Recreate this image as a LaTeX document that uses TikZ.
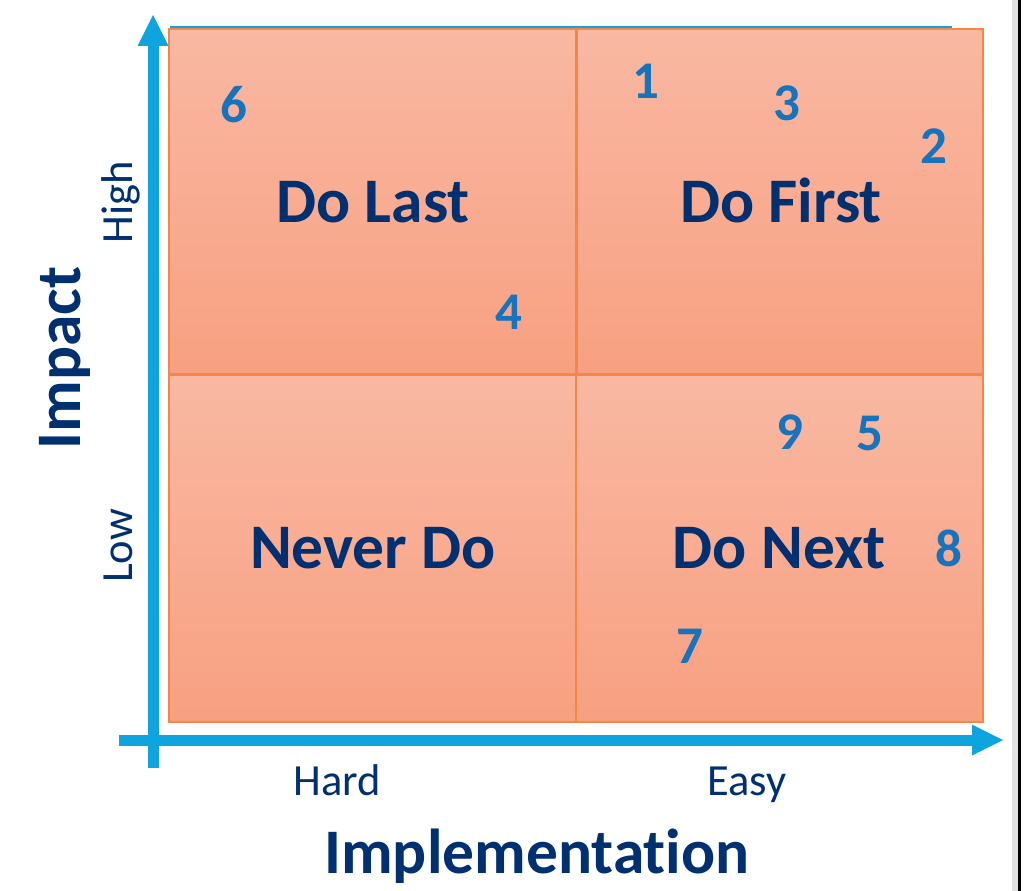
\documentclass[tikz,border=0pt]{standalone}
\usepackage{fontspec}
\setmainfont{Carlito}[Ligatures={NoCommon,NoRequired,NoContextual}]
\definecolor{navy}{RGB}{0,48,112}
\definecolor{numblue}{RGB}{22,115,188}
\definecolor{axisblue}{RGB}{14,165,223}
\definecolor{filltop}{RGB}{249,184,162}
\definecolor{fillbot}{RGB}{248,160,129}
\definecolor{edge}{RGB}{245,135,70}
\tikzset{
  quad/.style={top color=filltop, bottom color=fillbot, draw=edge, line width=1.3pt},
  quadlabel/.style={anchor=base, text=navy, font=\fontsize{63.5}{64}\selectfont\bfseries, inner sep=0pt},
  num/.style={anchor=base, text=numblue, font=\fontsize{53}{53}\selectfont\bfseries, inner sep=0pt},
  ticklabel/.style={anchor=base, text=navy, font=\fontsize{44.5}{45}\selectfont, inner sep=0pt},
  axistitle/.style={anchor=base, text=navy, font=\fontsize{63.5}{64}\selectfont\bfseries, inner sep=0pt},
}
\begin{document}
\begin{tikzpicture}[x=1pt,y=-1pt]
\useasboundingbox (0,0) rectangle (1036,891);
\fill[white] (0,0) rectangle (1036,891);
% page edge at right
\fill[black!12] (1012,0) rectangle (1018,891);
\fill[black] (1018,0) rectangle (1021,891);
% top blue line
\draw[axisblue, line width=2.2pt] (170,27) -- (952,27);
% quadrants
\path[quad] (169,29) rectangle (576,374);
\path[quad] (577,29) rectangle (983,374);
\path[quad] (169,375) rectangle (576,722);
\path[quad] (576,375) rectangle (983,722);
\draw[edge, line width=3pt] (576.5,29) -- (576.5,374);
% axes
\fill[axisblue] (147.5,768) rectangle (158.5,44);
\fill[axisblue] (153,15) -- (168.5,46) -- (137.5,46) -- cycle;
\fill[axisblue] (119,734.5) rectangle (974,745.5);
\fill[axisblue] (1003,740) -- (972,724.5) -- (972,755.5) -- cycle;
% quadrant labels
\node[quadlabel] (dolast) at (373,222) {Do Last};
\node[quadlabel] (dofirst) at (781,222) {Do First};
\node[quadlabel] (neverdo) at (373,568) {Never Do};
\node[quadlabel] (donext) at (779,568) {Do Next};
% numbers
\node[num] (n1) at (646,98) {1};
\node[num] (n2) at (934,163) {2};
\node[num] (n3) at (787,121) {3};
\node[num] (n4) at (509,329) {4};
\node[num] (n5) at (870,450) {5};
\node[num] (n6) at (234,122) {6};
\node[num] (n7) at (690,663) {7};
\node[num] (n8) at (949,566) {8};
\node[num] (n9) at (790,449) {9};
% axis labels
\node[ticklabel] (hard) at (337,795) {Hard};
\node[ticklabel] (easy) at (747,795) {Easy};
\node[axistitle] (impl) at (537,873) {Implementat\kern0pt ion};
\node[ticklabel, rotate=90] (high) at (132,202) {High};
\node[ticklabel, rotate=90] (low) at (132,546) {Low};
\node[axistitle, rotate=90] (impact) at (80,358) {Impact};
\end{tikzpicture}
\end{document}
